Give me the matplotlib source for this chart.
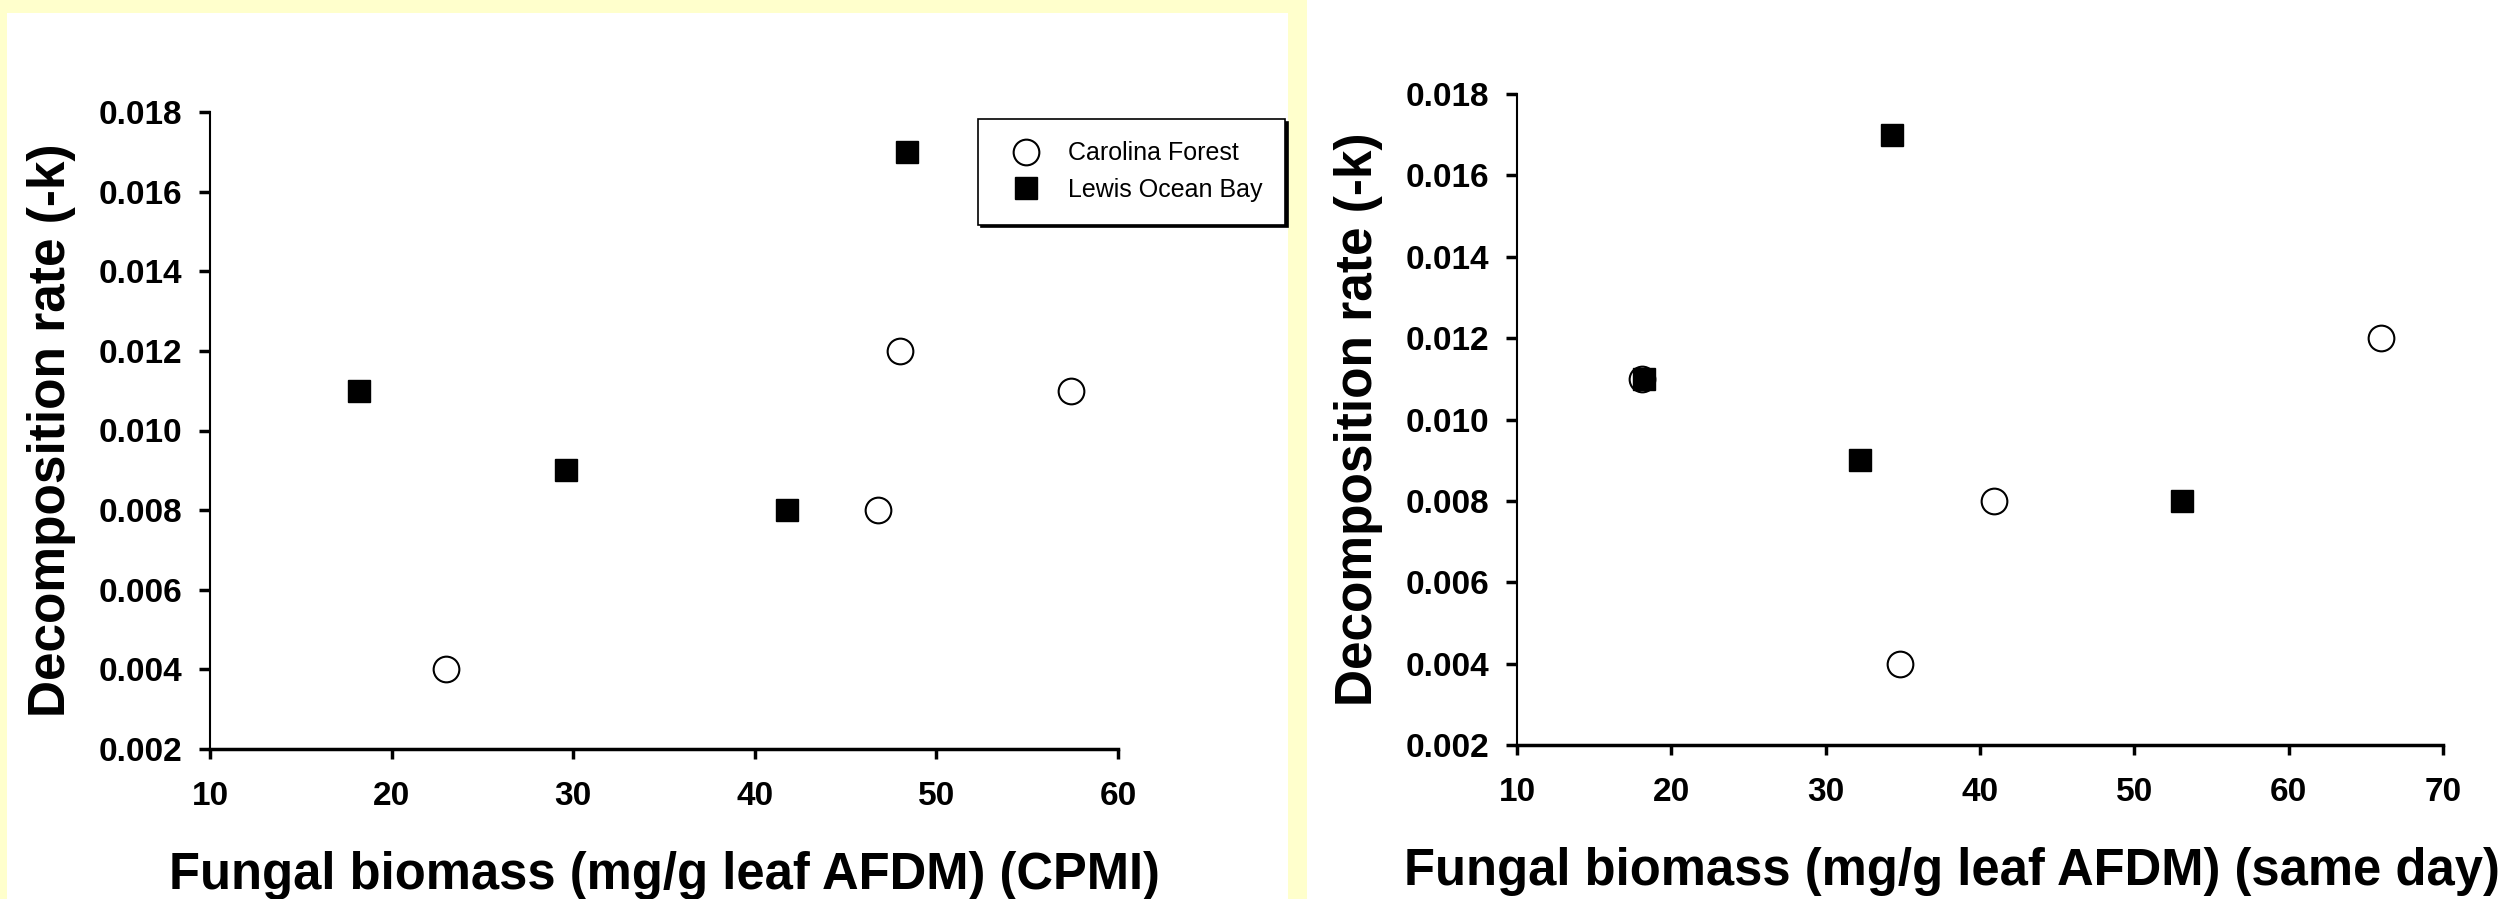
import matplotlib
matplotlib.use("Agg")
import matplotlib.pyplot as plt
from matplotlib.patches import Rectangle

plt.rcParams['font.family'] = ['Liberation Sans', 'DejaVu Sans']

# Decomposition rate vs fungal biomass, two sites
cpmi_cf_x = [23.0, 46.8, 48.0, 57.4]
cpmi_cf_y = [0.004, 0.008, 0.012, 0.011]
cpmi_lob_x = [18.2, 29.6, 41.8, 48.4]
cpmi_lob_y = [0.011, 0.009, 0.008, 0.017]

same_cf_x = [18.1, 34.8, 40.9, 66.0]
same_cf_y = [0.011, 0.004, 0.008, 0.012]
same_lob_x = [18.2, 32.2, 34.3, 53.1]
same_lob_y = [0.011, 0.009, 0.017, 0.008]

yticks = [0.002, 0.004, 0.006, 0.008, 0.010, 0.012, 0.014, 0.016, 0.018]
xticks_left = [10, 20, 30, 40, 50, 60]
xticks_right = [10, 20, 30, 40, 50, 60, 70]

W, H = 2514, 899
fig = plt.figure(figsize=(W / 100, H / 100), dpi=100)
fig.patch.set_facecolor('white')

# yellow frame around the left panel
fig.patches.append(Rectangle((0, 0), 1307 / W, 1, transform=fig.transFigure,
                             facecolor='#FFFFCC', edgecolor='none', zorder=-2))
fig.patches.append(Rectangle((7 / W, 0), (1288 - 7) / W, 1 - 13 / H,
                             transform=fig.transFigure, facecolor='white',
                             edgecolor='none', zorder=-1))


def style_axes(ax, xticks, xlabel):
    ax.set_facecolor('none')
    for s in ['top', 'right']:
        ax.spines[s].set_visible(False)
    ax.spines['left'].set_linewidth(1.5)
    ax.spines['bottom'].set_linewidth(2.5)
    ax.set_ylim(0.002, 0.018)
    ax.set_yticks(yticks)
    ax.set_yticklabels([f'{v:.3f}' for v in yticks])
    ax.set_xlim(xticks[0], xticks[-1])
    ax.set_xticks(xticks)
    ax.tick_params(axis='y', direction='out', length=8, width=2.5, pad=12,
                   labelsize=24)
    ax.tick_params(axis='x', direction='out', length=7, width=2.5, pad=16,
                   labelsize=24)
    for lab in ax.get_xticklabels() + ax.get_yticklabels():
        lab.set_fontweight('bold')
    ax.set_ylabel('Decomposition rate (-k)', fontsize=37, fontweight='bold',
                  labelpad=16)
    ax.set_xlabel(xlabel, fontsize=36.5, fontweight='bold', labelpad=28)


ax1 = fig.add_axes([210 / W, 1 - 749 / H, (1118 - 210) / W, (749 - 112) / H])
ax1.plot(cpmi_cf_x, cpmi_cf_y, 'o', ms=18.5, mfc='white', mec='black', mew=1.5,
         label='Carolina Forest', clip_on=False)
ax1.plot(cpmi_lob_x, cpmi_lob_y, 's', ms=16.5, mfc='black', mec='black', mew=1,
         label='Lewis Ocean Bay', clip_on=False)
style_axes(ax1, xticks_left, 'Fungal biomass (mg/g leaf AFDM) (CPMI)')
leg = ax1.legend(loc='upper left', bbox_to_anchor=(978 / W, 1 - 119 / H),
                 bbox_transform=fig.transFigure, borderaxespad=0,
                 fontsize=18, frameon=True, fancybox=False,
                 shadow={'color': 'black', 'alpha': 1},
                 borderpad=0.9, handlelength=2.0, handletextpad=0.7,
                 labelspacing=0.5)
leg.get_frame().set_edgecolor('black')
leg.get_frame().set_linewidth(1.2)

ax2 = fig.add_axes([1517 / W, 1 - 745 / H, 926 / W, 651 / H])
ax2.plot(same_cf_x, same_cf_y, 'o', ms=18.5, mfc='white', mec='black', mew=1.5,
         clip_on=False)
ax2.plot(same_lob_x, same_lob_y, 's', ms=16.5, mfc='black', mec='black', mew=1,
         clip_on=False)
style_axes(ax2, xticks_right, 'Fungal biomass (mg/g leaf AFDM) (same day)')
# nudge left a little so the long label stays inside the figure
ax2.xaxis.label.set_x(0.47)

fig.savefig('out.png', dpi=100, facecolor=fig.get_facecolor())
